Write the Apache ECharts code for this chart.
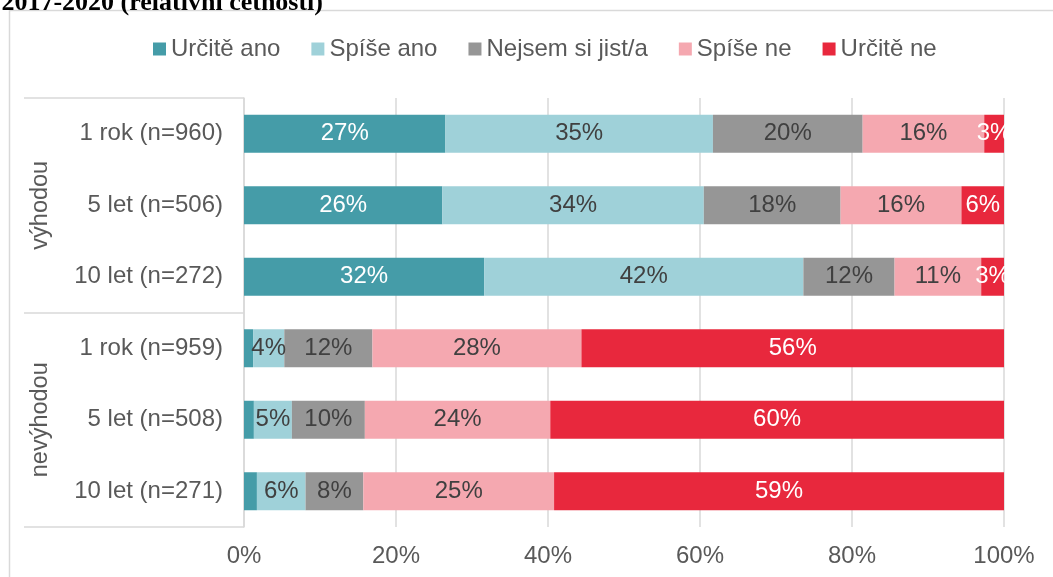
<!DOCTYPE html>
<html>
<head>
<meta charset="utf-8">
<script src="https://cdn.jsdelivr.net/npm/echarts@6/dist/echarts.min.js"></script>
<style>
  html, body { margin: 0; padding: 0; background: #fff; }
  #chart { width: 1053px; height: 577px; }
</style>
</head>
<body>
<div id="chart"></div>
<script>
// kategorie (řádky grafu)
const categories = ['1 rok (n=960)', '5 let (n=506)', '10 let (n=272)', '1 rok (n=959)', '5 let (n=508)', '10 let (n=271)'];
const groups = ['výhodou', 'nevýhodou'];
const seriesNames = ['Určitě ano', 'Spíše ano', 'Nejsem si jist/a', 'Spíše ne', 'Určitě ne'];
const xTicks = [0, 20, 40, 60, 80, 100];

// hodnoty v procentech
const urciteAno = [26.5, 26.1, 31.6, 1.2, 1.3, 1.7];
const spiseAno = [35.2, 34.4, 42.0, 4.1, 5.0, 6.4];
const nejsem = [19.7, 18.0, 12.0, 11.6, 9.6, 7.6];
const spiseNe = [16.0, 15.9, 11.4, 27.5, 24.4, 25.1];
const urciteNe = [2.6, 5.6, 3.0, 55.6, 59.7, 59.2];

const colors = ['#459ca8', '#9fd1d9', '#969696', '#f5a8b0', '#e8283d'];
const labelColors = ['#ffffff', '#404040', '#404040', '#404040', '#ffffff'];
const values = [urciteAno, spiseAno, nejsem, spiseNe, urciteNe];

const chart = echarts.init(document.getElementById('chart'));
const font = '"Liberation Sans", Arial, sans-serif';

const gridLeft = 244, gridTop = 98, gridRight = 49, gridBottom = 50;

const option = {
    animation: false,
    textStyle: { fontFamily: font },
    graphic: [
        // rámeček grafu
        {
            type: 'rect',
            shape: { x: 9.5, y: 10.5, width: 1200, height: 700 },
            style: { fill: 'none', stroke: '#d9d9d9', lineWidth: 1.5 },
            silent: true
        },
        // popisky za koncem plochy grafu se oříznou (jako v Excelu)
        {
            type: 'rect',
            shape: { x: 1053 - gridRight + 1, y: gridTop, width: gridRight, height: 577 - gridTop - gridBottom },
            style: { fill: '#fff' },
            z: 100,
            silent: true
        },
        // useknutý nadpis
        {
            type: 'text',
            x: 323,
            y: 16,
            style: {
                text: '2017-2020 (relativní četnosti)',
                font: 'bold 26px "Liberation Serif", "DejaVu Serif", serif',
                fill: '#000',
                align: 'right',
                verticalAlign: 'bottom'
            }
        }
    ],
    legend: {
        data: seriesNames,
        left: 148,
        top: 32,
        itemWidth: 13,
        itemHeight: 13,
        itemGap: 31,
        icon: 'rect',
        textStyle: { fontSize: 24, color: '#595959', fontFamily: font }
    },
    grid: { left: gridLeft, top: gridTop, right: gridRight, bottom: gridBottom, containLabel: false },
    xAxis: {
        type: 'value',
        min: 0,
        max: 100,
        interval: 20,
        axisLine: { show: false },
        axisTick: { show: false },
        splitLine: { lineStyle: { color: '#d9d9d9', width: 1.5 } },
        axisLabel: {
            formatter: function (v) { return xTicks.indexOf(v) >= 0 ? v + '%' : ''; },
            fontSize: 24,
            color: '#595959',
            margin: 17
        }
    },
    yAxis: [
        {
            type: 'category',
            data: categories,
            inverse: true,
            axisLine: { show: false },
            axisTick: { show: false },
            axisLabel: { fontSize: 24, color: '#595959', margin: 21 }
        },
        {
            type: 'category',
            data: groups,
            inverse: true,
            position: 'left',
            axisLine: { show: true, lineStyle: { color: '#d9d9d9', width: 1.5 } },
            axisTick: { show: true, length: 220, lineStyle: { color: '#d9d9d9', width: 1.5 } },
            axisLabel: { rotate: 90, fontSize: 23.5, color: '#595959', margin: 203, align: 'center', verticalAlign: 'middle' }
        }
    ],
    series: seriesNames.map(function (name, i) {
        return {
            name: name,
            type: 'bar',
            stack: 'total',
            barWidth: 38,
            yAxisIndex: 0,
            data: values[i],
            itemStyle: { color: colors[i] },
            label: {
                show: true,
                position: 'inside',
                fontSize: 24,
                color: labelColors[i],
                fontFamily: font,
                formatter: function (p) { return p.value < 2 ? '' : Math.round(p.value) + '%'; }
            }
        };
    })
};

chart.setOption(option);
</script>
</body>
</html>
